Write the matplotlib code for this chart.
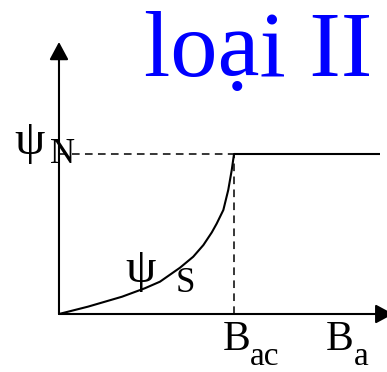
import matplotlib
matplotlib.use("Agg")
import matplotlib.pyplot as plt

# magnetisation curve psi_S(B_a) for a type II superconductor,
# B in units of B_ac, psi in units of psi_N
b_curve = [0.0, 0.166, 0.36, 0.491, 0.577, 0.691, 0.767, 0.825, 0.873, 0.901,
           0.939, 0.967, 0.987, 1.0]
psi_curve = [0.0, 0.046, 0.108, 0.161, 0.202, 0.289, 0.358, 0.431, 0.51, 0.565,
             0.65, 0.775, 0.9, 1.0]
b_plateau = [1.0, 1.834]
psi_plateau = [1.0, 1.0]
b_ac = 1.0
psi_n = 1.0
x_axis_end = 1.91
y_axis_end = 1.70

W, H = 387, 372
fig = plt.figure(figsize=(W / 100, H / 100), dpi=100)
ax = fig.add_axes([0, 0, 1, 1])
ax.set_xlim(-0.337, 1.874)
ax.set_ylim(-0.3625, 1.9625)
ax.axis("off")

serif = "Liberation Serif"

def fpos(x, y):
    return x / W, 1 - y / H

# axes with arrow heads
arrow = dict(arrowstyle="-|>,head_length=10.8,head_width=5.8", color="black",
             lw=1.5, shrinkA=0, shrinkB=0, mutation_scale=1)
ax.annotate("", xy=(x_axis_end, 0), xytext=(0, 0), arrowprops=arrow, annotation_clip=False)
ax.annotate("", xy=(0, y_axis_end), xytext=(0, 0), arrowprops=arrow, annotation_clip=False)

# dashed guides to psi_N and B_ac
ax.plot([0, b_ac], [psi_n, psi_n], color="black", lw=1.1, dashes=(5, 3.5))
ax.plot([b_ac, b_ac], [0, psi_n], color="black", lw=1.1, dashes=(5, 3.5))

# curve and plateau
ax.plot(b_curve, psi_curve, color="black", lw=1.5, solid_capstyle="round",
        solid_joinstyle="round")
ax.plot(b_plateau, psi_plateau, color="black", lw=1.5, solid_capstyle="butt")

# labels
fig.text(*fpos(144, 76), "loại II", color="#0000ff", fontsize=68,
         family=serif, ha="left", va="baseline")

fig.text(*fpos(14, 154), "ψ", fontsize=35, family=serif, ha="left", va="baseline")
fig.text(*fpos(50, 163), "N", fontsize=25, family=serif, ha="left", va="baseline")

fig.text(*fpos(125, 282), "ψ", fontsize=35, family=serif, ha="left", va="baseline")
fig.text(*fpos(176, 292), "S", fontsize=25, family=serif, ha="left", va="baseline")

fig.text(*fpos(223, 350), "B", fontsize=30, family=serif, ha="left", va="baseline")
fig.text(*fpos(250, 365), "ac", fontsize=24, family=serif, ha="left", va="baseline")

fig.text(*fpos(326, 350), "B", fontsize=30, family=serif, ha="left", va="baseline")
fig.text(*fpos(354, 365), "a", fontsize=24, family=serif, ha="left", va="baseline")

fig.savefig("out.png", dpi=100)
